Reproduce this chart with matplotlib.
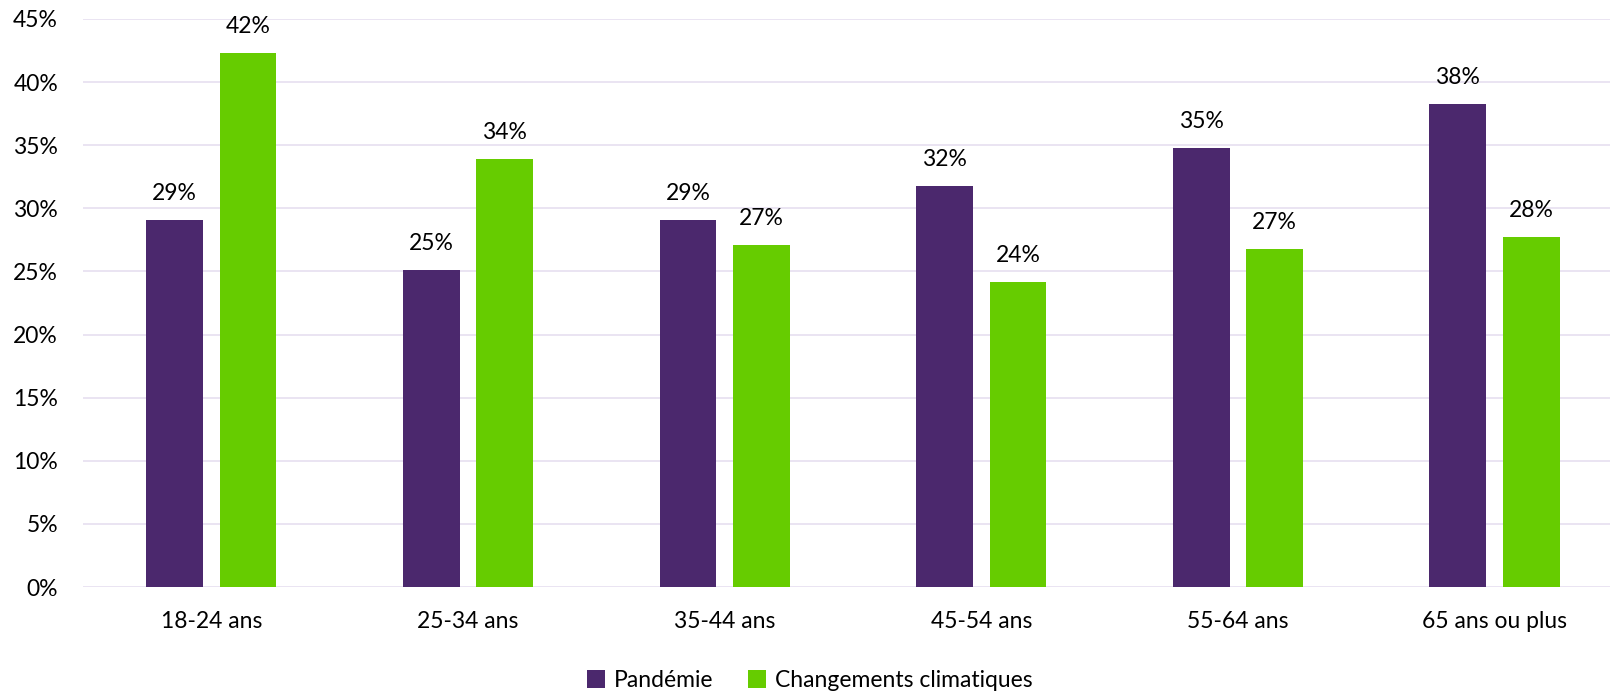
import numpy as np
import matplotlib
matplotlib.use('Agg')
import matplotlib.pyplot as plt
from matplotlib.ticker import FuncFormatter

plt.rcParams['font.family'] = ['Lato', 'DejaVu Sans']

categories = ['18-24 ans', '25-34 ans', '35-44 ans', '45-54 ans', '55-64 ans', '65 ans ou plus']
pandemie = [29.1, 25.1, 29.1, 31.8, 34.8, 38.3]
climat = [42.3, 33.9, 27.1, 24.2, 26.8, 27.7]
series_names = ['Pandémie', 'Changements climatiques']
colors = ['#4B286D', '#66CC00']

fig = plt.figure(figsize=(16.1, 6.91), dpi=100)
ax = fig.add_axes([83 / 1610, 104 / 691, 1 - 83 / 1610, (587 - 19) / 691])

x = np.arange(len(categories))
w = 0.221
off = 0.143
b1 = ax.bar(x - off, pandemie, w, color=colors[0], label=series_names[0], zorder=3)
b2 = ax.bar(x + off, climat, w, color=colors[1], label=series_names[1], zorder=3)

# value labels above each bar
for bars, vals in ((b1, pandemie), (b2, climat)):
    for rect, v in zip(bars, vals):
        ax.annotate(f'{v:.0f}%', (rect.get_x() + rect.get_width() / 2, v),
                    xytext=(0, 19), textcoords='offset points',
                    ha='center', va='center', fontsize=16.5, color='#000000')

ax.set_xlim(-0.5, 5.45)
ax.set_ylim(0, 45)
ax.set_yticks(np.arange(0, 46, 5))
ax.yaxis.set_major_formatter(FuncFormatter(lambda v, p: f'{v:.0f}%'))
ax.set_xticks(x)
ax.set_xticklabels(categories)
ax.tick_params(axis='both', length=0, labelsize=16.5, colors='#000000')
ax.tick_params(axis='x', pad=17)
ax.tick_params(axis='y', pad=18)
ax.grid(axis='y', color='#E6DFF0', linewidth=1.2, zorder=0)
for s in ax.spines.values():
    s.set_visible(False)

fig.legend(loc='lower center', bbox_to_anchor=(0.503, -0.03), ncol=2, frameon=False,
           fontsize=16.5, handlelength=0.8, handleheight=0.8, handletextpad=0.4,
           columnspacing=1.5)

fig.savefig('out.png', dpi=100, facecolor='white')
